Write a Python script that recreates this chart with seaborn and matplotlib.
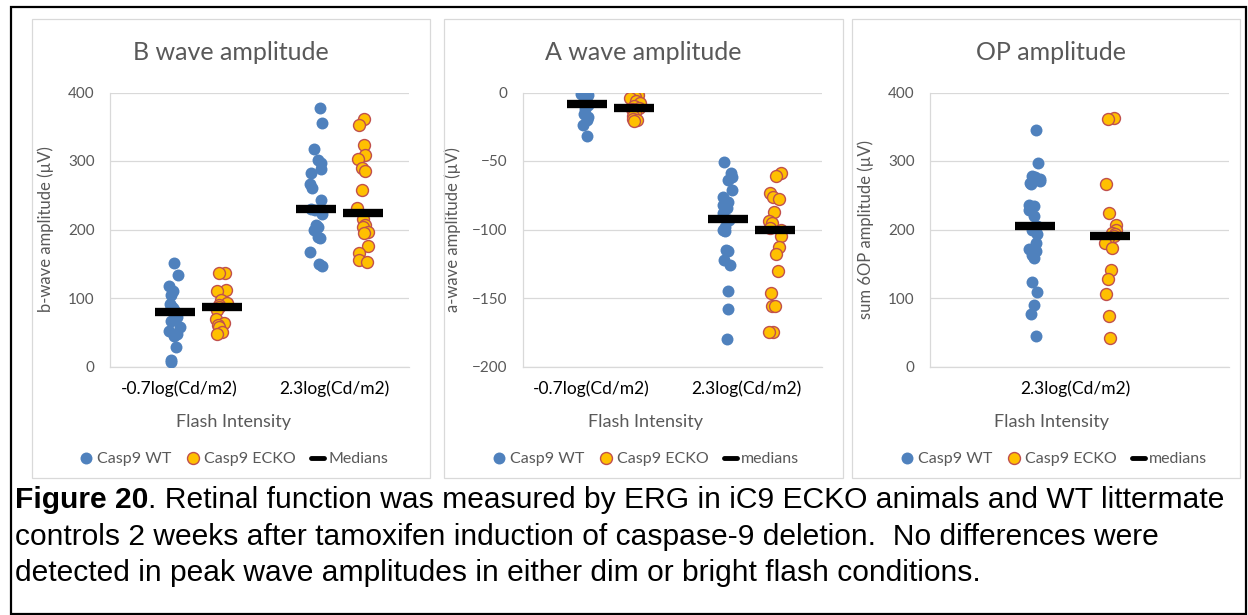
import numpy as np
import pandas as pd
import matplotlib
matplotlib.use("Agg")
import matplotlib.pyplot as plt
import seaborn as sns
from matplotlib.lines import Line2D
from matplotlib.patches import Rectangle

# ---------------- data ----------------
flash_labels = ["-0.7log(Cd/m2)", "2.3log(Cd/m2)"]
op_flash_label = ["2.3log(Cd/m2)"]
genotypes = ["Casp9 WT", "Casp9 ECKO"]
panel_titles = ["B wave amplitude", "A wave amplitude", "OP amplitude"]
y_labels = ["b-wave amplitude (µV)", "a-wave amplitude (µV)", "sum 6OP amplitude (µV)"]
median_labels = ["Medians", "medians", "medians"]
x_title = "Flash Intensity"

bwave_wt_dim = [151, 133, 118, 110, 104, 91, 89, 85, 82, 80, 78, 72, 67, 57, 52, 48, 44, 28, 9, 6]
bwave_ecko_dim = [137, 136, 111, 110, 97, 93, 90, 87, 82, 70, 63, 60, 57, 50, 47]
bwave_wt_bright = [378, 356, 317, 301, 297, 289, 282, 266, 261, 243, 230, 228, 223, 206, 204, 199, 189, 187, 167, 149, 147]
bwave_ecko_bright = [362, 353, 324, 309, 303, 290, 286, 258, 232, 215, 206, 204, 197, 195, 176, 166, 156, 153]

awave_wt_dim = [0, -1, -2, -3, -5, -7, -8, -9, -12, -16, -18, -20, -24, -32]
awave_ecko_dim = [-2, -3, -4, -6, -8, -10, -11, -12, -14, -17, -19, -20, -21]
awave_wt_bright = [-51, -59, -62, -64, -71, -76, -80, -82, -84, -88, -91, -93, -98, -100, -101, -115, -116, -122, -126, -145, -158, -180]
awave_ecko_bright = [-59, -61, -73, -76, -78, -87, -94, -95, -99, -100, -105, -113, -118, -130, -146, -156, -156, -175, -175]

op_wt = [345, 297, 278, 276, 273, 271, 268, 267, 236, 234, 229, 220, 205, 200, 193, 181, 171, 168, 163, 158, 124, 109, 90, 77, 45]
op_ecko = [363, 362, 266, 224, 207, 200, 195, 193, 191, 187, 180, 173, 141, 128, 106, 73, 42]

# ---------------- style ----------------
W, H, DPI = 1248, 615, 100
BLUE = "#4F81BD"
GOLD = "#FFC000"
RED_EDGE = "#C0504D"
GRAY_TXT = "#595959"
GRID = "#D9D9D9"

sns.set_theme(style="white")
plt.rcParams["font.family"] = ["Lato", "DejaVu Sans"]

fig = plt.figure(figsize=(W / DPI, H / DPI), dpi=DPI)
fig.patch.set_facecolor("white")


def fx(px):
    return px / W


def fy(py):
    return 1 - py / H


def add_rect(x0, y0, x1, y1, color, lw):
    fig.add_artist(Rectangle((fx(x0), fy(y1)), fx(x1) - fx(x0), fy(y0) - fy(y1),
                             transform=fig.transFigure, fill=False,
                             edgecolor=color, linewidth=lw))


# outer border and panel frames
add_rect(11, 7, 1246, 614, "black", 1.6)
add_rect(32, 19, 430, 478, GRID, 0.9)
add_rect(444, 19, 843, 478, GRID, 0.9)
add_rect(852, 19, 1240, 478, GRID, 0.9)


def make_df(groups):
    rows = []
    for slot, geno, vals in groups:
        for v in vals:
            rows.append({"slot": slot, "genotype": geno, "value": v})
    return pd.DataFrame(rows)


def style_axes(ax, ylim, yticks):
    ax.set_ylim(*ylim)
    ax.set_yticks(yticks)
    ax.grid(axis="y", color=GRID, linewidth=0.9)
    ax.grid(axis="x", visible=False)
    ax.set_axisbelow(True)
    for s in ["top", "right"]:
        ax.spines[s].set_visible(False)
    ax.spines["left"].set_color(GRID)
    ax.spines["bottom"].set_color(GRID)
    ax.spines["left"].set_linewidth(0.9)
    ax.spines["bottom"].set_linewidth(0.9)
    ax.tick_params(axis="y", length=0, pad=11, labelsize=11, labelcolor=GRAY_TXT)
    ax.tick_params(axis="x", length=0, pad=10, labelsize=12.5, labelcolor="black")


def draw_panel(ax, df, order, jitter, seed):
    np.random.seed(seed)
    sns.stripplot(data=df[df["genotype"] == genotypes[0]], x="slot", y="value",
                  order=order, color=BLUE, size=8.6, linewidth=0,
                  jitter=jitter, ax=ax, legend=False, zorder=3)
    sns.stripplot(data=df[df["genotype"] == genotypes[1]], x="slot", y="value",
                  order=order, color=GOLD, edgecolor=RED_EDGE, size=8.6,
                  linewidth=1.0, jitter=jitter, ax=ax, legend=False, zorder=3)
    sns.pointplot(data=df, x="slot", y="value", order=order, estimator="median",
                  errorbar=None, color="black", markers="_", linestyles="none",
                  markersize=29, markeredgewidth=6, ax=ax, legend=False, zorder=4)


ax_bottom = fy(366.5)
ax_h = 274 / H

# ---------- panel 1 ----------
ax1 = fig.add_axes([fx(110), ax_bottom, 299 / W, ax_h])
order12 = ["dim WT", "dim ECKO", "gap", "bright WT", "bright ECKO"]
df1 = make_df([("dim WT", genotypes[0], bwave_wt_dim),
               ("dim ECKO", genotypes[1], bwave_ecko_dim),
               ("bright WT", genotypes[0], bwave_wt_bright),
               ("bright ECKO", genotypes[1], bwave_ecko_bright)])
draw_panel(ax1, df1, order12, 0.13, 1)
style_axes(ax1, (0, 400), [0, 100, 200, 300, 400])
ax1.set_xlim(-1.383, 4.979)
ax1.set_xticks([0.08, 3.39])
ax1.set_xticklabels(flash_labels)

# ---------- panel 2 ----------
ax2 = fig.add_axes([fx(523), ax_bottom, 299 / W, ax_h])
df2 = make_df([("dim WT", genotypes[0], awave_wt_dim),
               ("dim ECKO", genotypes[1], awave_ecko_dim),
               ("bright WT", genotypes[0], awave_wt_bright),
               ("bright ECKO", genotypes[1], awave_ecko_bright)])
draw_panel(ax2, df2, order12, 0.13, 2)
style_axes(ax2, (-200, 0), [-200, -150, -100, -50, 0])
ax2.set_xlim(-1.362, 5.0)
ax2.set_xticks([0.08, 3.39])
ax2.set_xticklabels(flash_labels)

# ---------- panel 3 ----------
ax3 = fig.add_axes([fx(930), ax_bottom, 299 / W, ax_h])
order3 = ["OP WT", "OP ECKO"]
df3 = make_df([("OP WT", genotypes[0], op_wt),
               ("OP ECKO", genotypes[1], op_ecko)])
draw_panel(ax3, df3, order3, 0.085, 3)
style_axes(ax3, (0, 400), [0, 100, 200, 300, 400])
ax3.set_xlim(-1.4, 2.587)
ax3.set_xticks([0.533])
ax3.set_xticklabels(op_flash_label)

# labels, titles, legends
axes = [ax1, ax2, ax3]
title_cx = [231, 643, 1051]
legend_cx = [234, 646, 1054]
ylab_x = [-0.187, -0.207, -0.187]
for i, ax in enumerate(axes):
    ax.set_xlabel("")
    ax.set_ylabel(y_labels[i], fontsize=12, color=GRAY_TXT)
    ax.yaxis.set_label_coords(ylab_x[i], 0.5)
    fig.text(fx(title_cx[i]), fy(52), panel_titles[i], ha="center", va="center",
             fontsize=18, color=GRAY_TXT)
    fig.text(fx(title_cx[i] + (2 if i < 2 else 0)), fy(422), x_title, ha="center",
             va="center", fontsize=13, color=GRAY_TXT)
    handles = [
        Line2D([], [], linestyle="none", marker="o", markersize=8.6,
               markerfacecolor=BLUE, markeredgewidth=0, color=BLUE),
        Line2D([], [], linestyle="none", marker="o", markersize=8.6,
               markerfacecolor=GOLD, markeredgecolor=RED_EDGE, markeredgewidth=1.0),
        Line2D([], [], color="black", linewidth=3.5),
    ]
    leg = fig.legend(handles, [genotypes[0], genotypes[1], median_labels[i]],
                     loc="center", bbox_to_anchor=(fx(legend_cx[i]), fy(459)),
                     ncol=3, frameon=False, fontsize=11.5, handlelength=0.8,
                     handletextpad=0.25, columnspacing=1.0, borderpad=0)
    for t in leg.get_texts():
        t.set_color(GRAY_TXT)

# caption
cap_kw = dict(fontsize=21.6, color="black", va="center", ha="left",
              family=["Liberation Sans", "DejaVu Sans"])
t_bold = fig.text(fx(15), fy(500), "Figure 20", fontweight="bold", **cap_kw)
fig.canvas.draw()
bb = t_bold.get_window_extent()
fig.text(bb.x1 / W, fy(500), ". Retinal function was measured by ERG in iC9 ECKO animals and WT littermate", **cap_kw)
fig.text(fx(15), fy(537), "controls 2 weeks after tamoxifen induction of caspase-9 deletion.  No differences were", **cap_kw)
fig.text(fx(15), fy(573), "detected in peak wave amplitudes in either dim or bright flash conditions.", **cap_kw)

fig.savefig("out.png", dpi=DPI, facecolor="white")
